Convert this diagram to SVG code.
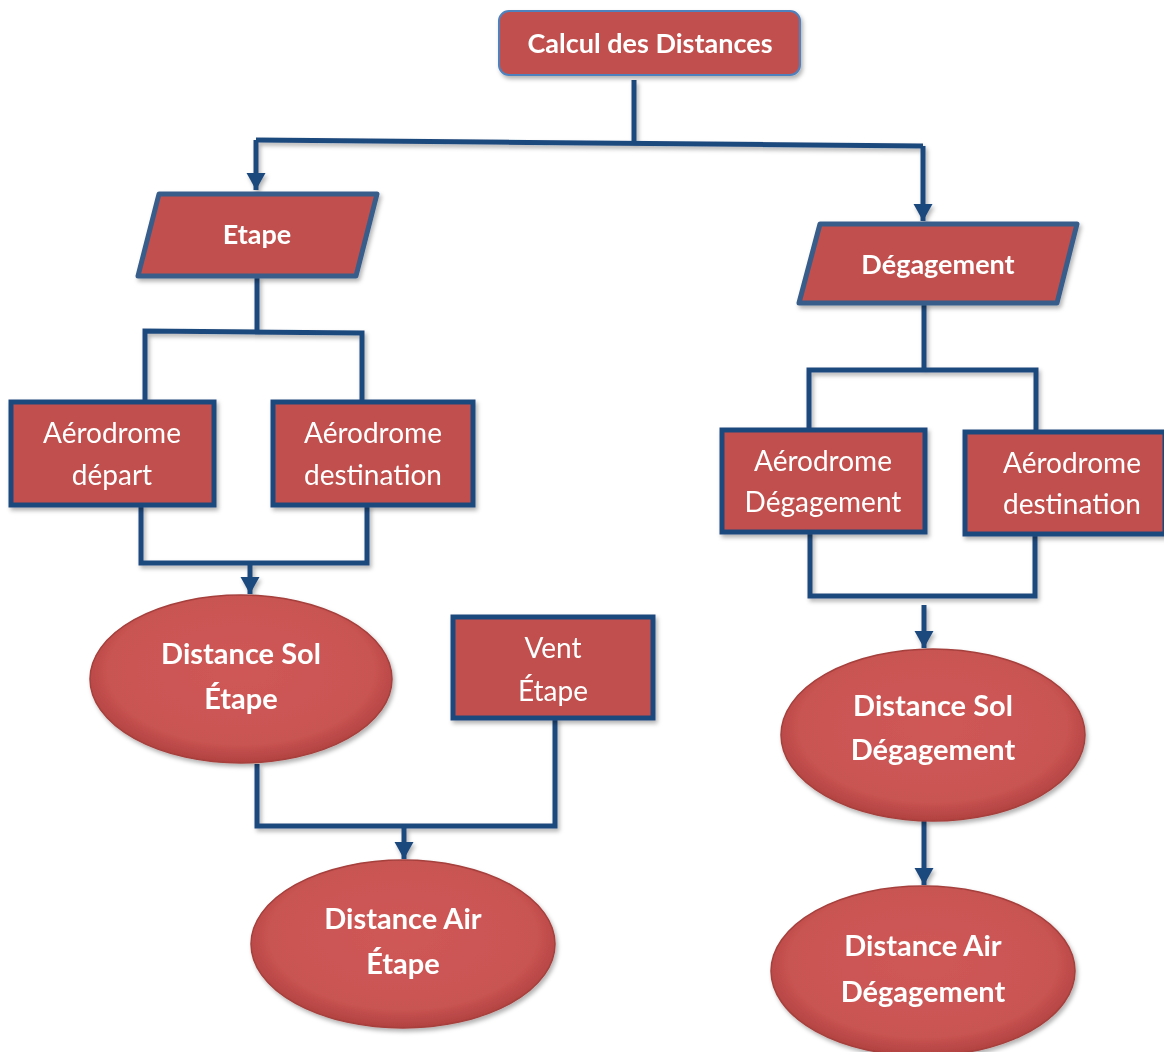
<svg xmlns="http://www.w3.org/2000/svg" width="1164" height="1052" viewBox="0 0 1164 1052">
<defs>
<style>
.t{font-family:Lato,"Open Sans","Liberation Sans",sans-serif;fill:#fff;text-anchor:middle}
.b{font-weight:bold;font-size:29px}
.h{font-weight:bold;font-size:27px}
.r{font-weight:normal;font-size:28px}
.box{fill:#C0504D;stroke:#1F497D;stroke-width:5}
.para{fill:#C0504D;stroke:#385D8A;stroke-width:5;stroke-linejoin:round}
.ell{fill:url(#eg);stroke:#A5403D;stroke-width:1.5}
.c{fill:none;stroke:#1F497D;stroke-width:5;stroke-linejoin:miter}
</style>
<radialGradient id="eg" cx="0.5" cy="0.45" r="0.55">
<stop offset="0" stop-color="#CF5957"/>
<stop offset="0.8" stop-color="#C95452"/>
<stop offset="1" stop-color="#B0413F"/>
</radialGradient>
<filter id="sh" x="-10%" y="-10%" width="130%" height="130%">
<feDropShadow dx="2" dy="3" stdDeviation="2" flood-color="#000" flood-opacity="0.3"/>
</filter>
<marker id="ar" markerWidth="4" markerHeight="4" refX="3.4" refY="2" orient="auto" markerUnits="strokeWidth">
<path d="M0,0.1 L3.4,2 L0,3.9 Z" fill="#1F497D"/>
</marker>
</defs>

<g id="connectors" filter="url(#sh)">
<path class="c" d="M634,80 V142"/>
<path class="c" d="M256,140 L923,146"/>
<path class="c" d="M256,140 V190" marker-end="url(#ar)"/>
<path class="c" d="M923,146 V221" marker-end="url(#ar)"/>
<path class="c" d="M257,277 V332"/>
<path class="c" d="M145,402 V331 L362,333 V402"/>
<path class="c" d="M141,505 V563 H367 V505"/>
<path class="c" d="M250,563 V594" marker-end="url(#ar)"/>
<path class="c" d="M257,764 V826 H555 V718"/>
<path class="c" d="M404,826 V859" marker-end="url(#ar)"/>
<path class="c" d="M924,303 V370"/>
<path class="c" d="M809,430 V370 H1036 V432"/>
<path class="c" d="M810,532 V596 H1035 V534"/>
<path class="c" d="M924,605 V648" marker-end="url(#ar)"/>
<path class="c" d="M924,820 V885" marker-end="url(#ar)"/>
</g>

<g id="calcul" filter="url(#sh)">
<rect x="499" y="11" width="301" height="64" rx="10" fill="#C0504D" stroke="#4F81BD" stroke-width="2"/>
<text class="t h" x="650" y="53">Calcul des Distances</text>
</g>

<g id="etape" filter="url(#sh)">
<polygon class="para" points="159,194 377,194 356,276 138,276"/>
<text class="t h" x="257" y="244">Etape</text>
</g>

<g id="aero-depart" filter="url(#sh)">
<rect class="box" x="11" y="402" width="203" height="103"/>
<text class="t r" x="112" y="443">Aérodrome</text>
<text class="t r" x="112" y="485">départ</text>
</g>

<g id="aero-destination-etape" filter="url(#sh)">
<rect class="box" x="273" y="402" width="200" height="103"/>
<text class="t r" x="373" y="443">Aérodrome</text>
<text class="t r" x="373" y="485">destination</text>
</g>

<g id="distance-sol-etape" filter="url(#sh)">
<ellipse class="ell" cx="241" cy="679" rx="151" ry="84"/>
<text class="t b" x="241" y="664">Distance Sol</text>
<text class="t b" x="241" y="709">Étape</text>
</g>

<g id="vent-etape" filter="url(#sh)">
<rect class="box" x="453" y="617" width="200" height="101"/>
<text class="t r" x="553" y="658">Vent</text>
<text class="t r" x="553" y="701">Étape</text>
</g>

<g id="distance-air-etape" filter="url(#sh)">
<ellipse class="ell" cx="403" cy="944" rx="152" ry="84"/>
<text class="t b" x="403" y="929">Distance Air</text>
<text class="t b" x="403" y="974">Étape</text>
</g>

<g id="degagement" filter="url(#sh)">
<polygon class="para" points="820,224 1077,224 1057,303 799,303"/>
<text class="t h" x="938" y="274">Dégagement</text>
</g>

<g id="aero-degagement" filter="url(#sh)">
<rect class="box" x="722" y="430" width="203" height="102"/>
<text class="t r" x="823" y="471">Aérodrome</text>
<text class="t r" x="823" y="512">Dégagement</text>
</g>

<g id="aero-destination-deg" filter="url(#sh)">
<rect class="box" x="965" y="432" width="200" height="102"/>
<text class="t r" x="1072" y="473">Aérodrome</text>
<text class="t r" x="1072" y="514">destination</text>
</g>

<g id="distance-sol-degagement" filter="url(#sh)">
<ellipse class="ell" cx="933" cy="735" rx="152" ry="86"/>
<text class="t b" x="933" y="716">Distance Sol</text>
<text class="t b" x="933" y="760">Dégagement</text>
</g>

<g id="distance-air-degagement" filter="url(#sh)">
<ellipse class="ell" cx="923" cy="971" rx="152" ry="85"/>
<text class="t b" x="923" y="956">Distance Air</text>
<text class="t b" x="923" y="1002">Dégagement</text>
</g>
</svg>
